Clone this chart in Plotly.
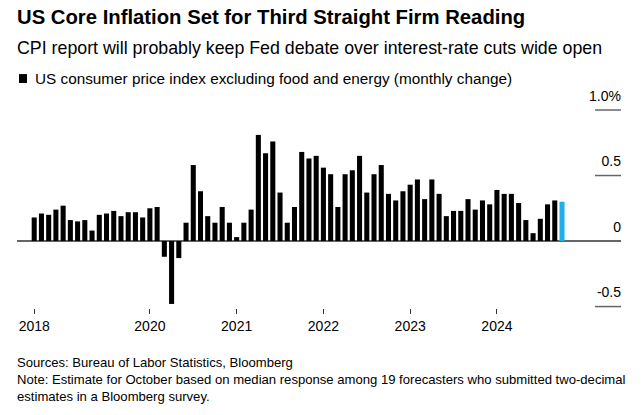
import plotly.graph_objects as go

# Monthly change in US core CPI, Sep 2018 .. Oct 2024 (last value is estimate)
values = [0.18, 0.21, 0.20, 0.24, 0.27, 0.16, 0.15, 0.16, 0.08, 0.20,
          0.21, 0.23, 0.19, 0.22, 0.22, 0.18, 0.25, 0.26, -0.12, -0.48,
          -0.13, 0.14, 0.58, 0.38, 0.19, 0.14, 0.26, 0.14, 0.03, 0.14,
          0.24, 0.81, 0.67, 0.76, 0.37, 0.14, 0.26, 0.68, 0.63, 0.65,
          0.56, 0.51, 0.26, 0.51, 0.54, 0.65, 0.37, 0.51, 0.58, 0.36,
          0.31, 0.38, 0.43, 0.47, 0.32, 0.47, 0.36, 0.19, 0.23, 0.23,
          0.32, 0.24, 0.31, 0.28, 0.39, 0.36, 0.36, 0.29, 0.16, 0.06,
          0.17, 0.28, 0.31, 0.30]
months = list(range(len(values)))
is_estimate = [False] * (len(values) - 1) + [True]

x_tick_pos = [0, 16, 28, 40, 52, 64]
x_tick_labels = ["2018", "2020", "2021", "2022", "2023", "2024"]
y_tick_vals = [1.0, 0.5, 0, -0.5]
y_tick_labels = ["1.0%", "0.5", "0", "-0.5"]

title = "US Core Inflation Set for Third Straight Firm Reading"
subtitle = "CPI report will probably keep Fed debate over interest-rate cuts wide open"
legend_label = "US consumer price index excluding food and energy (monthly change)"
source = "Sources: Bureau of Labor Statistics, Bloomberg"
note = ("Note: Estimate for October based on median response among 19 forecasters who submitted two-decimal"
        "<br>estimates in a Bloomberg survey.")

BLACK = "#000000"
BLUE = "#1db0ec"
FONT = "Liberation Sans, Arial, sans-serif"

colors = [BLUE if e else BLACK for e in is_estimate]

fig = go.Figure()
fig.add_trace(go.Bar(x=months, y=values, marker=dict(color=colors, line=dict(width=0)),
                     showlegend=False, hoverinfo="skip"))

fig.update_layout(
    width=642, height=415,
    margin=dict(l=17, r=21, t=80, b=107),
    paper_bgcolor="white", plot_bgcolor="white",
    bargap=0.3,
    font=dict(family=FONT, color="#000"),
    xaxis=dict(range=[-2.38, 81.16], tickmode="array", tickvals=x_tick_pos,
               ticktext=x_tick_labels, ticks="outside", ticklen=5, tickwidth=1,
               tickcolor="#333", showgrid=False, zeroline=False, showline=False,
               tickfont=dict(size=14, color="#000"), fixedrange=True),
    yaxis=dict(range=[-0.511, 1.229], side="right", tickmode="array",
               tickvals=y_tick_vals, ticktext=y_tick_labels,
               ticklabelposition="inside", ticklabelshift=-14, ticklabelstandoff=-3,
               ticks="", showgrid=False, zeroline=True, zerolinecolor="#666",
               zerolinewidth=1.5, showline=False,
               tickfont=dict(size=14, color="#000"), fixedrange=True),
)

# short tick segments under the y labels
for v in y_tick_vals:
    if v == 0:
        continue
    fig.add_shape(type="line", xref="paper", yref="y", x0=0.957, x1=1.0, y0=v, y1=v,
                  line=dict(color="#666", width=1.5))

# legend swatch
fig.add_shape(type="rect", xref="paper", yref="paper", x0=0.0033, x1=0.0166,
              y0=0.987, y1=1.026, fillcolor=BLACK, line=dict(width=0))

fig.add_annotation(text="<b>" + title + "</b>", xref="paper", yref="paper",
                   x=-0.003, y=1.0, xanchor="left", yanchor="middle",
                   yshift=63, showarrow=False, font=dict(size=20.3, color="#000"))
fig.add_annotation(text=subtitle, xref="paper", yref="paper", x=-0.003, y=1.0,
                   xanchor="left", yanchor="middle", yshift=32, showarrow=False,
                   font=dict(size=17.8, color="#000"))
fig.add_annotation(text=legend_label, xref="paper", yref="paper", x=0.0265, y=1.0,
                   xanchor="left", yanchor="middle", yshift=2, showarrow=False,
                   font=dict(size=15.3, color="#000"))
fig.add_annotation(text=source + "<br>" + note, xref="paper", yref="paper", x=-0.003, y=0,
                   xanchor="left", yanchor="top", yshift=-45, showarrow=False,
                   align="left", font=dict(size=13.1, color="#000"))

fig.write_html("out.html")
